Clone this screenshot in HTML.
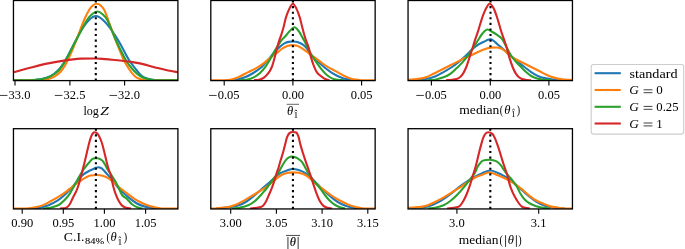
<!DOCTYPE html>
<html><head><meta charset="utf-8"><title>plot</title>
<style>
html,body{margin:0;padding:0;background:#fff;}
body{width:685px;height:249px;position:relative;overflow:hidden;font-family:"Liberation Serif",serif;}
svg text{font-family:"Liberation Serif",serif;fill:#000;}
svg{will-change:transform;opacity:0.999;}
</style></head><body>
<svg width="685" height="249" viewBox="0 0 685 249" style="position:absolute;left:0;top:0">
<rect x="0" y="0" width="685" height="249" fill="#fff"/>
<defs><clipPath id="c00"><rect x="13.45" y="0.5" width="164.45000000000002" height="80.1"/></clipPath><clipPath id="c01"><rect x="210.8" y="0.5" width="164.34999999999997" height="80.1"/></clipPath><clipPath id="c02"><rect x="408.05" y="0.5" width="164.40000000000003" height="80.1"/></clipPath><clipPath id="c10"><rect x="13.45" y="128.7" width="164.45000000000002" height="80.25"/></clipPath><clipPath id="c11"><rect x="210.8" y="128.7" width="164.34999999999997" height="80.25"/></clipPath><clipPath id="c12"><rect x="408.05" y="128.7" width="164.40000000000003" height="80.25"/></clipPath></defs>
<g clip-path="url(#c00)" fill="none" stroke-width="2.1" stroke-linejoin="round" stroke-linecap="butt">
<path stroke="#1f77b4" d="M10.00,80.30C16.67,80.30 23.33,80.30 30.00,80.30C32.00,80.30 34.00,79.99 36.00,79.78C38.00,79.58 40.00,79.56 42.00,79.06C44.83,78.36 47.67,77.74 50.50,76.18C53.17,74.72 55.83,72.88 58.50,70.00C60.83,67.48 63.17,63.96 65.50,60.00C68.67,54.63 71.83,47.94 75.00,42.00C77.17,37.94 79.33,33.40 81.50,30.00C84.00,26.07 86.50,22.43 89.00,20.00C91.30,17.76 93.60,16.00 95.90,16.00C98.27,16.00 100.63,17.88 103.00,20.00C105.83,22.54 108.67,26.15 111.50,30.00C114.07,33.49 116.63,37.60 119.20,42.00C122.47,47.60 125.73,54.71 129.00,60.00C131.50,64.05 134.00,66.89 136.50,70.00C138.33,72.28 140.17,74.77 142.00,76.18C144.00,77.72 146.00,78.20 148.00,78.86C149.67,79.40 151.33,79.58 153.00,79.78C155.33,80.07 157.67,80.30 160.00,80.30C167.33,80.30 174.67,80.30 182.00,80.30"/>
<path stroke="#ff7f0e" d="M10.00,80.30C20.00,80.30 30.00,80.30 40.00,80.30C42.33,80.30 44.67,80.10 47.00,79.48C49.77,78.73 52.53,77.93 55.30,76.18C57.53,74.77 59.77,72.87 62.00,70.00C63.97,67.47 65.93,64.05 67.90,60.00C70.47,54.72 73.03,48.34 75.60,42.00C78.43,35.00 81.27,26.72 84.10,20.00C85.77,16.05 87.43,12.75 89.10,10.00C90.40,7.85 91.70,6.38 93.00,5.30C94.23,4.28 95.47,3.70 96.70,3.70C97.93,3.70 99.17,4.28 100.40,5.30C101.70,6.38 103.00,7.55 104.30,10.00C105.60,12.45 106.90,16.56 108.20,20.00C110.80,26.89 113.40,34.33 116.00,41.00C118.60,47.67 121.20,54.50 123.80,60.00C125.77,64.16 127.73,67.11 129.70,70.00C131.40,72.50 133.10,74.68 134.80,76.18C136.53,77.71 138.27,78.43 140.00,79.06C142.00,79.80 144.00,80.30 146.00,80.30C158.00,80.30 170.00,80.30 182.00,80.30"/>
<path stroke="#2ca02c" d="M10.00,80.30C16.67,80.30 23.33,80.30 30.00,80.30C32.00,80.30 34.00,79.97 36.00,79.78C38.00,79.60 40.00,79.65 42.00,79.17C45.00,78.45 48.00,77.80 51.00,76.18C53.67,74.74 56.33,72.90 59.00,70.00C61.30,67.50 63.60,63.98 65.90,60.00C69.00,54.64 72.10,47.88 75.20,42.00C79.13,34.54 83.07,26.44 87.00,20.00C88.77,17.11 90.53,15.44 92.30,14.00C94.00,12.61 95.70,11.50 97.40,11.50C99.13,11.50 100.87,12.71 102.60,14.20C104.17,15.55 105.73,16.94 107.30,20.00C110.13,25.54 112.97,33.87 115.80,40.00C119.13,47.21 122.47,54.25 125.80,60.00C128.27,64.25 130.73,67.23 133.20,70.00C135.53,72.62 137.87,74.63 140.20,76.18C142.30,77.58 144.40,78.22 146.50,78.86C148.33,79.42 150.17,79.56 152.00,79.78C154.00,80.04 156.00,80.30 158.00,80.30C166.00,80.30 174.00,80.30 182.00,80.30"/>
<path stroke="#d62728" d="M10.00,73.09C11.17,72.82 12.33,72.57 13.50,72.27C19.00,70.81 24.50,69.23 30.00,67.80C35.63,66.34 41.27,64.80 46.90,63.60C52.50,62.40 58.10,61.43 63.70,60.60C69.33,59.76 74.97,58.97 80.60,58.60C85.73,58.50 90.87,58.50 96.00,58.50C99.10,58.50 102.20,58.87 105.30,59.10C107.53,59.27 109.77,59.47 112.00,59.70C116.77,60.20 121.53,60.71 126.30,61.30C128.87,61.61 131.43,61.98 134.00,62.40C136.70,62.84 139.40,63.31 142.10,63.90C144.73,64.48 147.37,65.20 150.00,65.90C152.63,66.60 155.27,67.43 157.90,68.10C160.60,68.79 163.30,69.43 166.00,70.00C168.57,70.54 171.13,70.96 173.70,71.44C175.13,71.71 176.57,72.00 178.00,72.27C179.33,72.51 180.67,72.75 182.00,72.99"/>
<line x1="95.8" y1="0.5" x2="95.8" y2="80.6" stroke="#000" stroke-width="2.1" stroke-dasharray="2.1 3.48"/>
</g>
<rect x="13.45" y="0.5" width="164.45" height="80.10" fill="none" stroke="#000" stroke-width="1.3"/>
<line x1="15.0" y1="80.6" x2="15.0" y2="85.50" stroke="#000" stroke-width="1.1"/>
<line x1="-0.12" y1="95.45" x2="7.48" y2="95.45" stroke="#000" stroke-width="0.75"/>
<text x="8.5" y="98.6" font-size="11.8" textLength="21.9" lengthAdjust="spacingAndGlyphs">33.0</text>
<line x1="69.9" y1="80.6" x2="69.9" y2="85.50" stroke="#000" stroke-width="1.1"/>
<line x1="54.78" y1="95.45" x2="62.38" y2="95.45" stroke="#000" stroke-width="0.75"/>
<text x="63.5" y="98.6" font-size="11.8" textLength="21.9" lengthAdjust="spacingAndGlyphs">32.5</text>
<line x1="124.6" y1="80.6" x2="124.6" y2="85.50" stroke="#000" stroke-width="1.1"/>
<line x1="109.48" y1="95.45" x2="117.08" y2="95.45" stroke="#000" stroke-width="0.75"/>
<text x="118.1" y="98.6" font-size="11.8" textLength="21.9" lengthAdjust="spacingAndGlyphs">32.0</text>
<g clip-path="url(#c01)" fill="none" stroke-width="2.1" stroke-linejoin="round" stroke-linecap="butt">
<path stroke="#1f77b4" d="M228.00,80.30C230.80,80.09 233.60,80.18 236.40,79.68C239.23,79.18 242.07,78.44 244.90,77.31C247.70,76.20 250.50,74.71 253.30,72.99C256.10,71.27 258.90,69.50 261.70,67.00C263.97,64.97 266.23,62.04 268.50,59.40C270.47,57.11 272.43,54.39 274.40,52.20C276.27,50.12 278.13,48.20 280.00,46.60C281.63,45.20 283.27,44.10 284.90,43.20C286.10,42.54 287.30,42.14 288.50,41.90C290.10,41.58 291.70,41.50 293.30,41.50C294.90,41.50 296.50,41.67 298.10,42.20C299.70,42.73 301.30,43.57 302.90,44.70C304.13,45.57 305.37,46.64 306.60,48.20C307.90,49.84 309.20,52.73 310.50,54.30C312.77,57.03 315.03,58.97 317.30,61.10C319.53,63.20 321.77,65.19 324.00,67.00C326.27,68.84 328.53,70.55 330.80,72.06C333.03,73.54 335.27,74.88 337.50,75.97C339.77,77.08 342.03,78.01 344.30,78.65C346.53,79.28 348.77,79.55 351.00,79.78C354.00,80.10 357.00,80.13 360.00,80.30"/>
<path stroke="#ff7f0e" d="M205.00,80.30C211.33,80.30 217.67,80.30 224.00,80.30C226.47,80.30 228.93,80.17 231.40,79.58C234.20,78.90 237.00,77.74 239.80,76.49C242.60,75.24 245.40,73.50 248.20,72.06C251.03,70.60 253.87,69.43 256.70,67.80C259.23,66.34 261.77,64.68 264.30,62.80C266.27,61.34 268.23,59.35 270.20,57.80C272.67,55.85 275.13,54.19 277.60,52.30C279.23,51.05 280.87,49.48 282.50,48.40C284.10,47.34 285.70,46.45 287.30,45.90C288.90,45.35 290.50,45.10 292.10,45.10C293.70,45.10 295.30,45.28 296.90,45.80C298.50,46.32 300.10,47.24 301.70,48.20C303.33,49.18 304.97,50.41 306.60,51.60C307.90,52.55 309.20,53.65 310.50,54.60C312.77,56.25 315.03,57.74 317.30,59.40C319.53,61.04 321.77,62.96 324.00,64.50C326.27,66.06 328.53,67.43 330.80,68.70C333.03,69.95 335.27,70.86 337.50,72.06C339.77,73.28 342.03,74.87 344.30,75.97C346.53,77.06 348.77,77.99 351.00,78.65C352.97,79.23 354.93,79.43 356.90,79.68C359.27,79.98 361.63,80.30 364.00,80.30C369.33,80.30 374.67,80.30 380.00,80.30"/>
<path stroke="#2ca02c" d="M240.00,80.30C242.17,80.09 244.33,80.12 246.50,79.68C248.77,79.23 251.03,78.75 253.30,77.62C255.53,76.51 257.77,75.03 260.00,72.99C261.97,71.19 263.93,68.83 265.90,66.10C267.60,63.74 269.30,60.62 271.00,57.70C272.40,55.29 273.80,52.48 275.20,50.10C276.60,47.72 278.00,45.61 279.40,43.40C280.13,42.24 280.87,40.88 281.60,40.00C282.83,38.52 284.07,37.67 285.30,36.30C286.70,34.74 288.10,32.55 289.50,31.20C291.20,29.55 292.90,27.30 294.60,27.30C296.00,27.30 297.40,29.39 298.80,31.20C299.93,32.66 301.07,35.13 302.20,37.10C302.87,38.26 303.53,39.30 304.20,40.60C305.47,43.07 306.73,45.96 308.00,48.40C309.40,51.09 310.80,53.71 312.20,56.00C313.90,58.78 315.60,61.20 317.30,63.60C319.00,66.00 320.70,68.40 322.40,70.41C324.07,72.39 325.73,74.20 327.40,75.56C329.10,76.95 330.80,77.94 332.50,78.65C334.17,79.35 335.83,79.55 337.50,79.78C339.67,80.10 341.83,80.13 344.00,80.30"/>
<path stroke="#d62728" d="M254.00,80.30C255.73,80.09 257.47,80.18 259.20,79.68C260.90,79.19 262.60,78.54 264.30,77.31C265.70,76.31 267.10,74.91 268.50,72.99C269.60,71.47 270.70,69.70 271.80,67.00C272.67,64.87 273.53,61.66 274.40,58.50C275.23,55.46 276.07,51.51 276.90,48.40C277.67,45.54 278.43,42.97 279.20,40.60C279.83,38.64 280.47,37.36 281.10,35.40C281.93,32.82 282.77,30.08 283.60,27.00C284.43,23.92 285.27,19.53 286.10,16.90C287.23,13.33 288.37,10.60 289.50,8.40C290.63,6.20 291.77,3.70 292.90,3.70C294.03,3.70 295.17,6.17 296.30,8.40C297.40,10.57 298.50,13.43 299.60,16.90C300.47,19.63 301.33,23.70 302.20,27.00C303.03,30.17 303.87,33.39 304.70,36.30C305.17,37.93 305.63,39.26 306.10,40.60C307.03,43.29 307.97,45.23 308.90,48.40C309.57,50.66 310.23,54.54 310.90,56.90C311.90,60.44 312.90,63.59 313.90,66.10C315.03,68.95 316.17,71.44 317.30,72.99C318.70,74.90 320.10,75.44 321.50,76.49C322.90,77.54 324.30,78.60 325.70,79.27C326.97,79.87 328.23,79.96 329.50,80.30"/>
<line x1="292.9" y1="0.5" x2="292.9" y2="80.6" stroke="#000" stroke-width="2.1" stroke-dasharray="2.1 3.48"/>
</g>
<rect x="210.8" y="0.5" width="164.35" height="80.10" fill="none" stroke="#000" stroke-width="1.3"/>
<line x1="224.2" y1="80.6" x2="224.2" y2="85.50" stroke="#000" stroke-width="1.1"/>
<line x1="209.08" y1="95.45" x2="216.68" y2="95.45" stroke="#000" stroke-width="0.75"/>
<text x="217.7" y="98.6" font-size="11.8" textLength="21.9" lengthAdjust="spacingAndGlyphs">0.05</text>
<line x1="292.9" y1="80.6" x2="292.9" y2="85.50" stroke="#000" stroke-width="1.1"/>
<text x="282.0" y="98.6" font-size="11.8" textLength="21.9" lengthAdjust="spacingAndGlyphs">0.00</text>
<line x1="361.6" y1="80.6" x2="361.6" y2="85.50" stroke="#000" stroke-width="1.1"/>
<text x="350.7" y="98.6" font-size="11.8" textLength="21.9" lengthAdjust="spacingAndGlyphs">0.05</text>
<g clip-path="url(#c02)" fill="none" stroke-width="2.1" stroke-linejoin="round" stroke-linecap="butt">
<path stroke="#1f77b4" d="M412.00,80.30C414.00,80.13 416.00,79.94 418.00,79.78C420.33,79.60 422.67,79.72 425.00,79.27C428.37,78.62 431.73,77.80 435.10,76.49C437.90,75.40 440.70,73.63 443.50,72.06C446.33,70.47 449.17,68.89 452.00,67.00C454.23,65.51 456.47,63.72 458.70,61.90C460.97,60.05 463.23,58.12 465.50,56.00C467.73,53.92 469.97,51.25 472.20,49.30C474.47,47.32 476.73,45.61 479.00,44.20C481.23,42.81 483.47,42.02 485.70,40.90C486.47,40.52 487.23,39.95 488.00,39.70C488.77,39.45 489.53,39.40 490.30,39.40C491.30,39.40 492.30,39.92 493.30,40.60C494.67,41.52 496.03,43.01 497.40,44.20C499.67,46.18 501.93,48.12 504.20,50.10C506.43,52.05 508.67,54.05 510.90,56.00C513.17,57.98 515.43,60.05 517.70,61.90C519.93,63.72 522.17,65.32 524.40,67.00C526.67,68.71 528.93,70.55 531.20,72.06C533.43,73.54 535.67,74.96 537.90,75.97C540.13,76.99 542.37,77.62 544.60,78.14C547.70,78.86 550.80,79.30 553.90,79.68C556.60,80.02 559.30,80.09 562.00,80.30"/>
<path stroke="#ff7f0e" d="M400.00,80.30C402.33,80.16 404.67,80.06 407.00,79.89C409.33,79.72 411.67,79.56 414.00,79.27C417.67,78.81 421.33,78.65 425.00,77.62C427.80,76.83 430.60,75.16 433.40,73.81C436.23,72.45 439.07,70.93 441.90,69.50C444.70,68.09 447.50,66.70 450.30,65.30C453.10,63.90 455.90,62.48 458.70,61.10C461.53,59.71 464.37,58.31 467.20,57.00C469.27,56.04 471.33,55.25 473.40,54.30C474.60,53.75 475.80,53.08 477.00,52.50C478.63,51.71 480.27,50.87 481.90,50.20C483.50,49.54 485.10,48.93 486.70,48.50C488.30,48.07 489.90,47.77 491.50,47.60C493.10,47.50 494.70,47.50 496.30,47.50C497.90,47.50 499.50,47.88 501.10,48.50C502.33,48.98 503.57,49.82 504.80,50.80C505.80,51.59 506.80,52.99 507.80,53.80C509.97,55.56 512.13,57.19 514.30,58.50C517.10,60.19 519.90,61.39 522.70,62.80C525.53,64.23 528.37,65.59 531.20,67.00C534.00,68.40 536.80,69.80 539.60,71.24C541.83,72.38 544.07,73.74 546.30,74.74C548.83,75.87 551.37,76.89 553.90,77.62C556.60,78.40 559.30,78.89 562.00,79.27C564.67,79.65 567.33,79.72 570.00,79.89C572.67,80.06 575.33,80.16 578.00,80.30"/>
<path stroke="#2ca02c" d="M428.00,80.30C430.37,80.09 432.73,80.14 435.10,79.68C437.90,79.14 440.70,78.39 443.50,77.31C445.77,76.44 448.03,75.41 450.30,73.81C452.53,72.24 454.77,69.91 457.00,67.80C458.97,65.94 460.93,64.15 462.90,61.90C464.87,59.65 466.83,57.02 468.80,54.30C470.50,51.95 472.20,49.29 473.90,46.70C475.37,44.46 476.83,42.07 478.30,39.80C479.63,37.74 480.97,35.21 482.30,33.70C484.00,31.78 485.70,29.50 487.40,29.50C489.07,29.50 490.73,31.08 492.40,32.00C494.10,32.94 495.80,33.96 497.50,35.10C498.73,35.93 499.97,36.67 501.20,37.90C501.87,38.57 502.53,39.62 503.20,40.80C504.37,42.86 505.53,45.42 506.70,47.60C508.10,50.22 509.50,53.05 510.90,55.20C512.60,57.81 514.30,59.91 516.00,61.90C517.67,63.85 519.33,65.32 521.00,67.00C522.70,68.71 524.40,70.56 526.10,72.06C527.80,73.56 529.50,75.02 531.20,75.97C533.43,77.22 535.67,78.02 537.90,78.65C540.13,79.29 542.37,79.52 544.60,79.78C547.07,80.07 549.53,80.13 552.00,80.30"/>
<path stroke="#d62728" d="M446.00,80.30C448.00,80.13 450.00,80.13 452.00,79.78C454.23,79.40 456.47,79.36 458.70,78.14C460.10,77.37 461.50,75.86 462.90,73.81C464.03,72.15 465.17,69.75 466.30,67.00C467.27,64.65 468.23,61.42 469.20,58.50C470.10,55.78 471.00,52.97 471.90,50.10C472.90,46.91 473.90,43.35 474.90,40.30C475.97,37.05 477.03,34.47 478.10,31.20C478.93,28.64 479.77,25.47 480.60,22.80C481.43,20.13 482.27,17.35 483.10,15.20C484.23,12.28 485.37,9.64 486.50,7.60C487.50,5.80 488.50,3.70 489.50,3.70C490.77,3.70 492.03,5.41 493.30,7.60C494.40,9.51 495.50,12.85 496.60,16.00C497.47,18.48 498.33,21.63 499.20,24.50C500.03,27.26 500.87,30.32 501.70,32.90C502.57,35.58 503.43,37.75 504.30,40.30C505.10,42.65 505.90,44.89 506.70,47.60C507.53,50.42 508.37,54.16 509.20,56.90C510.33,60.63 511.47,64.18 512.60,67.00C513.73,69.82 514.87,72.15 516.00,73.81C517.40,75.86 518.80,77.24 520.20,78.14C521.90,79.23 523.60,79.44 525.30,79.78C527.20,80.17 529.10,80.13 531.00,80.30"/>
<line x1="490.5" y1="0.5" x2="490.5" y2="80.6" stroke="#000" stroke-width="2.1" stroke-dasharray="2.1 3.48"/>
</g>
<rect x="408.05" y="0.5" width="164.40" height="80.10" fill="none" stroke="#000" stroke-width="1.3"/>
<line x1="431.4" y1="80.6" x2="431.4" y2="85.50" stroke="#000" stroke-width="1.1"/>
<line x1="416.28" y1="95.45" x2="423.88" y2="95.45" stroke="#000" stroke-width="0.75"/>
<text x="424.9" y="98.6" font-size="11.8" textLength="21.9" lengthAdjust="spacingAndGlyphs">0.05</text>
<line x1="490.3" y1="80.6" x2="490.3" y2="85.50" stroke="#000" stroke-width="1.1"/>
<text x="479.4" y="98.6" font-size="11.8" textLength="21.9" lengthAdjust="spacingAndGlyphs">0.00</text>
<line x1="548.9" y1="80.6" x2="548.9" y2="85.50" stroke="#000" stroke-width="1.1"/>
<text x="538.0" y="98.6" font-size="11.8" textLength="21.9" lengthAdjust="spacingAndGlyphs">0.05</text>
<g clip-path="url(#c10)" fill="none" stroke-width="2.1" stroke-linejoin="round" stroke-linecap="butt">
<path stroke="#1f77b4" d="M32.00,208.60C34.70,208.29 37.40,208.21 40.10,207.67C42.90,207.11 45.70,206.42 48.50,205.31C51.33,204.19 54.17,202.76 57.00,200.98C59.23,199.59 61.47,197.77 63.70,195.80C65.97,193.80 68.23,191.52 70.50,189.10C72.17,187.32 73.83,185.18 75.50,183.20C77.00,181.42 78.50,179.45 80.00,177.80C81.17,176.52 82.33,175.31 83.50,174.40C85.03,173.21 86.57,172.33 88.10,171.50C89.70,170.63 91.30,170.05 92.90,169.30C93.93,168.82 94.97,168.20 96.00,167.80C96.77,167.50 97.53,167.20 98.30,167.20C99.03,167.20 99.77,167.37 100.50,167.70C101.23,168.03 101.97,168.51 102.70,169.20C103.83,170.27 104.97,171.73 106.10,173.00C106.67,173.63 107.23,174.27 107.80,174.90C109.50,176.80 111.20,178.50 112.90,180.60C114.57,182.66 116.23,185.46 117.90,187.40C119.87,189.69 121.83,191.46 123.80,193.30C125.77,195.14 127.73,196.87 129.70,198.41C131.97,200.19 134.23,201.95 136.50,203.25C138.73,204.53 140.97,205.48 143.20,206.13C146.00,206.95 148.80,207.26 151.60,207.67C154.40,208.09 157.20,208.29 160.00,208.60"/>
<path stroke="#ff7f0e" d="M8.00,208.60C14.00,208.60 20.00,208.60 26.00,208.60C28.47,208.60 30.93,208.04 33.40,207.57C36.20,207.04 39.00,206.63 41.80,205.62C44.60,204.60 47.40,202.98 50.20,201.50C53.03,200.00 55.87,198.44 58.70,196.70C61.23,195.14 63.77,193.46 66.30,191.60C68.27,190.16 70.23,188.33 72.20,186.80C74.17,185.27 76.13,183.80 78.10,182.40C79.40,181.47 80.70,180.62 82.00,179.80C83.33,178.96 84.67,178.07 86.00,177.40C87.50,176.64 89.00,175.84 90.50,175.50C92.50,175.04 94.50,175.00 96.50,175.00C98.50,175.00 100.50,175.14 102.50,175.70C104.53,176.27 106.57,177.21 108.60,178.40C109.80,179.11 111.00,180.40 112.20,181.40C112.97,182.04 113.73,182.65 114.50,183.30C116.77,185.22 119.03,187.29 121.30,189.10C123.53,190.89 125.77,192.42 128.00,194.10C130.27,195.80 132.53,197.79 134.80,199.23C137.03,200.66 139.27,201.68 141.50,202.73C143.77,203.81 146.03,204.86 148.30,205.62C150.53,206.36 152.77,206.78 155.00,207.26C157.33,207.77 159.67,208.60 162.00,208.60C169.33,208.60 176.67,208.60 184.00,208.60"/>
<path stroke="#2ca02c" d="M43.00,208.60C45.40,208.29 47.80,208.22 50.20,207.67C53.03,207.02 55.87,206.50 58.70,205.00C60.67,203.96 62.63,202.09 64.60,200.06C66.40,198.19 68.20,195.96 70.00,193.30C71.43,191.18 72.87,188.29 74.30,185.70C75.67,183.23 77.03,180.53 78.40,178.10C79.60,175.96 80.80,173.99 82.00,172.00C82.63,170.95 83.27,169.87 83.90,169.00C85.33,167.03 86.77,165.19 88.20,163.50C89.53,161.93 90.87,160.24 92.20,159.20C93.13,158.47 94.07,158.20 95.00,158.20C95.83,158.20 96.67,158.20 97.50,158.20C98.33,158.20 99.17,158.56 100.00,159.00C100.87,159.46 101.73,159.89 102.60,160.90C103.57,162.02 104.53,163.74 105.50,165.40C106.07,166.37 106.63,167.88 107.20,168.80C108.53,170.98 109.87,172.63 111.20,174.70C112.60,176.87 114.00,179.01 115.40,181.50C116.53,183.51 117.67,185.92 118.80,188.20C119.90,190.42 121.00,193.55 122.10,195.00C123.80,197.23 125.50,197.65 127.20,199.23C128.90,200.82 130.60,203.13 132.30,204.48C133.97,205.81 135.63,206.59 137.30,207.26C139.03,207.96 140.77,208.15 142.50,208.60"/>
<path stroke="#d62728" d="M60.00,208.60C62.10,208.29 64.20,208.57 66.30,207.67C67.40,207.20 68.50,206.15 69.60,204.48C70.73,202.76 71.87,199.78 73.00,197.50C74.13,195.22 75.27,193.39 76.40,190.80C77.23,188.89 78.07,186.68 78.90,184.00C79.73,181.32 80.57,177.83 81.40,174.70C81.93,172.70 82.47,170.70 83.00,168.60C83.63,166.10 84.27,163.53 84.90,160.90C85.63,157.86 86.37,154.69 87.10,151.60C87.77,148.79 88.43,145.67 89.10,143.20C89.80,140.60 90.50,138.19 91.20,136.40C91.80,134.86 92.40,133.90 93.00,133.20C93.57,132.54 94.13,132.30 94.70,132.30C95.33,132.30 95.97,132.43 96.60,132.90C97.27,133.40 97.93,134.01 98.60,135.20C99.53,136.87 100.47,138.86 101.40,141.50C102.20,143.76 103.00,146.82 103.80,149.90C104.53,152.72 105.27,156.22 106.00,159.20C106.80,162.45 107.60,165.95 108.40,168.60C109.33,171.69 110.27,173.02 111.20,176.40C111.77,178.45 112.33,182.62 112.90,184.90C113.73,188.25 114.57,191.03 115.40,193.30C116.53,196.39 117.67,198.90 118.80,200.98C119.90,203.01 121.00,204.63 122.10,205.62C123.53,206.90 124.97,207.30 126.40,207.78C127.93,208.29 129.47,208.33 131.00,208.60"/>
<line x1="95.9" y1="128.7" x2="95.9" y2="208.95" stroke="#000" stroke-width="2.1" stroke-dasharray="2.1 3.48"/>
</g>
<rect x="13.45" y="128.7" width="164.45" height="80.25" fill="none" stroke="#000" stroke-width="1.3"/>
<line x1="22.2" y1="208.95" x2="22.2" y2="213.85" stroke="#000" stroke-width="1.1"/>
<text x="11.3" y="226.9" font-size="11.8" textLength="21.9" lengthAdjust="spacingAndGlyphs">0.90</text>
<line x1="63.3" y1="208.95" x2="63.3" y2="213.85" stroke="#000" stroke-width="1.1"/>
<text x="52.4" y="226.9" font-size="11.8" textLength="21.9" lengthAdjust="spacingAndGlyphs">0.95</text>
<line x1="104.4" y1="208.95" x2="104.4" y2="213.85" stroke="#000" stroke-width="1.1"/>
<text x="93.5" y="226.9" font-size="11.8" textLength="21.9" lengthAdjust="spacingAndGlyphs">1.00</text>
<line x1="145.6" y1="208.95" x2="145.6" y2="213.85" stroke="#000" stroke-width="1.1"/>
<text x="134.7" y="226.9" font-size="11.8" textLength="21.9" lengthAdjust="spacingAndGlyphs">1.05</text>
<g clip-path="url(#c11)" fill="none" stroke-width="2.1" stroke-linejoin="round" stroke-linecap="butt">
<path stroke="#1f77b4" d="M216.00,208.60C220.00,208.26 224.00,208.11 228.00,207.57C231.37,207.12 234.73,206.72 238.10,205.62C240.90,204.70 243.70,203.26 246.50,201.50C249.33,199.72 252.17,197.31 255.00,195.00C257.23,193.18 259.47,191.05 261.70,189.10C263.97,187.12 266.23,185.18 268.50,183.20C270.73,181.25 272.97,179.21 275.20,177.30C276.90,175.84 278.60,174.08 280.30,173.10C282.53,171.81 284.77,171.25 287.00,170.50C288.83,169.88 290.67,169.00 292.50,169.00C294.57,169.00 296.63,169.35 298.70,170.00C300.97,170.71 303.23,171.70 305.50,173.10C307.17,174.13 308.83,175.76 310.50,177.30C312.77,179.39 315.03,181.73 317.30,184.00C319.53,186.23 321.77,188.70 324.00,190.80C326.27,192.93 328.53,194.85 330.80,196.70C333.03,198.52 335.27,200.38 337.50,201.81C339.77,203.25 342.03,204.39 344.30,205.31C346.53,206.21 348.77,206.73 351.00,207.26C353.33,207.82 355.67,208.15 358.00,208.60"/>
<path stroke="#ff7f0e" d="M205.00,208.60C208.00,208.60 211.00,208.60 214.00,208.60C216.33,208.60 218.67,207.93 221.00,207.67C223.33,207.42 225.67,207.54 228.00,207.06C230.80,206.48 233.60,205.64 236.40,204.48C239.23,203.31 242.07,201.65 244.90,200.06C247.70,198.49 250.50,196.69 253.30,195.00C256.10,193.31 258.90,191.72 261.70,189.90C264.53,188.06 267.37,186.20 270.20,184.00C272.43,182.27 274.67,179.84 276.90,178.10C278.60,176.77 280.30,175.66 282.00,174.80C283.67,173.96 285.33,173.37 287.00,173.00C288.97,172.57 290.93,172.40 292.90,172.40C294.83,172.40 296.77,172.40 298.70,172.70C300.97,173.17 303.23,173.79 305.50,175.00C307.17,175.89 308.83,177.60 310.50,179.00C312.77,180.90 315.03,183.07 317.30,184.90C319.53,186.70 321.77,188.23 324.00,189.90C326.27,191.60 328.53,193.43 330.80,195.00C333.03,196.54 335.27,197.96 337.50,199.23C339.77,200.53 342.03,201.66 344.30,202.73C346.53,203.79 348.77,204.81 351.00,205.62C352.97,206.32 354.93,206.84 356.90,207.26C359.60,207.84 362.30,208.60 365.00,208.60C370.00,208.60 375.00,208.60 380.00,208.60"/>
<path stroke="#2ca02c" d="M232.00,208.60C234.60,208.29 237.20,208.20 239.80,207.67C242.60,207.10 245.40,206.54 248.20,205.31C250.47,204.31 252.73,202.87 255.00,200.98C257.23,199.13 259.47,196.59 261.70,194.10C263.80,191.76 265.90,189.26 268.00,186.50C269.73,184.22 271.47,181.32 273.20,179.00C274.63,177.08 276.07,175.75 277.50,173.80C278.37,172.62 279.23,171.09 280.10,169.60C280.90,168.22 281.70,166.53 282.50,165.20C283.67,163.26 284.83,161.20 286.00,159.80C287.00,158.60 288.00,157.97 289.00,157.40C289.93,156.87 290.87,156.50 291.80,156.50C292.70,156.50 293.60,156.62 294.50,156.90C295.40,157.18 296.30,157.61 297.20,158.20C298.70,159.18 300.20,159.86 301.70,161.60C302.87,162.96 304.03,165.47 305.20,167.50C306.07,169.01 306.93,170.73 307.80,172.20C308.67,173.67 309.53,175.06 310.40,176.30C311.53,177.92 312.67,179.39 313.80,180.80C316.10,183.66 318.40,186.16 320.70,189.10C322.10,190.89 323.50,193.17 324.90,195.00C326.30,196.83 327.70,198.63 329.10,200.06C330.80,201.79 332.50,203.31 334.20,204.48C335.87,205.64 337.53,206.42 339.20,207.06C341.13,207.79 343.07,208.09 345.00,208.60"/>
<path stroke="#d62728" d="M250.00,208.60C252.23,208.33 254.47,208.21 256.70,207.78C258.67,207.39 260.63,207.41 262.60,206.13C263.70,205.42 264.80,203.73 265.90,201.81C266.77,200.29 267.63,197.80 268.50,195.80C269.60,193.26 270.70,191.03 271.80,188.20C272.67,185.97 273.53,183.32 274.40,180.60C275.23,177.99 276.07,174.76 276.90,172.20C277.37,170.76 277.83,170.08 278.30,168.60C278.93,166.58 279.57,163.85 280.20,161.70C281.07,158.75 281.93,156.33 282.80,153.30C283.53,150.73 284.27,147.69 285.00,144.90C285.67,142.36 286.33,139.05 287.00,137.30C287.83,135.11 288.67,133.84 289.50,133.10C290.67,132.07 291.83,132.00 293.00,132.00C294.10,132.00 295.20,132.00 296.30,132.40C297.00,132.97 297.70,134.32 298.40,136.40C299.10,138.48 299.80,142.33 300.50,144.90C301.33,147.96 302.17,150.63 303.00,153.30C303.83,155.97 304.67,158.45 305.50,160.90C306.37,163.45 307.23,165.81 308.10,168.30C309.03,170.98 309.97,173.58 310.90,176.40C311.80,179.12 312.70,182.18 313.60,184.90C314.57,187.82 315.53,190.79 316.50,193.30C317.60,196.15 318.70,198.96 319.80,200.98C320.93,203.07 322.07,204.62 323.20,205.62C324.60,206.85 326.00,207.20 327.40,207.67C328.93,208.19 330.47,208.29 332.00,208.60"/>
<line x1="292.95" y1="128.7" x2="292.95" y2="208.95" stroke="#000" stroke-width="2.1" stroke-dasharray="2.1 3.48"/>
</g>
<rect x="210.8" y="128.7" width="164.35" height="80.25" fill="none" stroke="#000" stroke-width="1.3"/>
<line x1="230.7" y1="208.95" x2="230.7" y2="213.85" stroke="#000" stroke-width="1.1"/>
<text x="219.8" y="226.9" font-size="11.8" textLength="21.9" lengthAdjust="spacingAndGlyphs">3.00</text>
<line x1="276.4" y1="208.95" x2="276.4" y2="213.85" stroke="#000" stroke-width="1.1"/>
<text x="265.5" y="226.9" font-size="11.8" textLength="21.9" lengthAdjust="spacingAndGlyphs">3.05</text>
<line x1="322.1" y1="208.95" x2="322.1" y2="213.85" stroke="#000" stroke-width="1.1"/>
<text x="311.2" y="226.9" font-size="11.8" textLength="21.9" lengthAdjust="spacingAndGlyphs">3.10</text>
<line x1="367.8" y1="208.95" x2="367.8" y2="213.85" stroke="#000" stroke-width="1.1"/>
<text x="356.9" y="226.9" font-size="11.8" textLength="21.9" lengthAdjust="spacingAndGlyphs">3.15</text>
<g clip-path="url(#c12)" fill="none" stroke-width="2.1" stroke-linejoin="round" stroke-linecap="butt">
<path stroke="#1f77b4" d="M410.00,208.60C412.33,208.33 414.67,207.98 417.00,207.78C419.67,207.54 422.33,207.78 425.00,207.26C427.80,206.70 430.60,205.68 433.40,204.48C436.23,203.28 439.07,201.80 441.90,200.06C444.70,198.34 447.50,196.21 450.30,194.10C453.10,191.99 455.90,189.49 458.70,187.40C461.53,185.29 464.37,183.34 467.20,181.50C470.00,179.68 472.80,177.96 475.60,176.40C477.83,175.16 480.07,174.12 482.30,173.10C483.87,172.39 485.43,171.68 487.00,171.20C488.23,170.82 489.47,170.50 490.70,170.50C492.93,170.50 495.17,171.77 497.40,172.70C499.67,173.64 501.93,174.86 504.20,176.10C506.43,177.32 508.67,178.43 510.90,180.10C512.60,181.37 514.30,183.36 516.00,184.90C518.23,186.93 520.47,188.85 522.70,190.80C524.97,192.78 527.23,194.90 529.50,196.70C531.73,198.47 533.97,200.13 536.20,201.50C538.47,202.89 540.73,204.06 543.00,205.00C545.23,205.92 547.47,206.61 549.70,207.06C552.13,207.54 554.57,207.53 557.00,207.78C559.67,208.05 562.33,208.33 565.00,208.60"/>
<path stroke="#ff7f0e" d="M400.00,208.60C402.00,208.36 404.00,208.05 406.00,207.88C408.00,207.71 410.00,207.76 412.00,207.57C416.33,207.17 420.67,207.11 425.00,206.13C427.80,205.50 430.60,204.01 433.40,202.73C436.23,201.44 439.07,199.99 441.90,198.41C444.70,196.85 447.50,195.00 450.30,193.30C453.10,191.60 455.90,190.02 458.70,188.20C461.53,186.36 464.37,184.13 467.20,182.30C470.00,180.49 472.80,178.71 475.60,177.30C477.83,176.18 480.07,175.50 482.30,174.70C484.53,173.90 486.77,172.50 489.00,172.50C491.23,172.50 493.47,173.61 495.70,174.40C497.97,175.21 500.23,176.26 502.50,177.30C504.73,178.33 506.97,179.34 509.20,180.60C511.47,181.88 513.73,183.34 516.00,184.90C518.23,186.44 520.47,188.10 522.70,189.90C524.97,191.73 527.23,194.03 529.50,195.80C531.73,197.55 533.97,199.19 536.20,200.47C538.47,201.77 540.73,202.61 543.00,203.56C545.23,204.49 547.47,205.48 549.70,206.13C551.80,206.75 553.90,207.08 556.00,207.37C560.00,207.90 564.00,208.60 568.00,208.60C571.33,208.60 574.67,208.60 578.00,208.60"/>
<path stroke="#2ca02c" d="M428.00,208.60C430.37,208.33 432.73,208.28 435.10,207.78C437.90,207.18 440.70,206.56 443.50,205.31C445.77,204.29 448.03,202.71 450.30,200.98C452.53,199.28 454.77,197.25 457.00,195.00C459.27,192.72 461.53,190.11 463.80,187.40C465.77,185.05 467.73,182.38 469.70,179.80C471.37,177.61 473.03,175.73 474.70,173.10C475.33,172.10 475.97,170.24 476.60,168.90C477.10,167.84 477.60,166.60 478.10,165.90C479.50,163.94 480.90,161.64 482.30,160.90C484.83,159.70 487.37,159.70 489.90,159.70C492.13,159.70 494.37,160.29 496.60,161.40C498.00,162.09 499.40,163.53 500.80,165.10C501.53,165.92 502.27,167.55 503.00,168.60C504.50,170.75 506.00,172.82 507.50,174.70C509.20,176.82 510.90,178.44 512.60,180.60C514.00,182.38 515.40,184.16 516.80,186.50C517.93,188.39 519.07,191.40 520.20,193.30C521.60,195.65 523.00,197.74 524.40,199.23C526.10,201.05 527.80,202.26 529.50,203.25C531.73,204.55 533.97,205.40 536.20,206.13C538.47,206.87 540.73,207.27 543.00,207.67C545.33,208.09 547.67,208.29 550.00,208.60"/>
<path stroke="#d62728" d="M447.00,208.60C449.23,208.33 451.47,208.21 453.70,207.78C455.67,207.39 457.63,207.41 459.60,206.13C460.70,205.42 461.80,203.64 462.90,201.81C464.03,199.93 465.17,197.59 466.30,195.00C467.27,192.79 468.23,190.16 469.20,187.40C470.10,184.83 471.00,181.91 471.90,179.00C472.57,176.84 473.23,174.39 473.90,172.20C474.30,170.89 474.70,169.90 475.10,168.50C475.70,166.40 476.30,164.10 476.90,161.70C477.57,159.03 478.23,155.97 478.90,153.30C479.63,150.37 480.37,147.55 481.10,144.90C481.77,142.49 482.43,139.77 483.10,138.10C483.97,135.93 484.83,134.40 485.70,133.40C486.53,132.44 487.37,132.20 488.20,132.20C489.60,132.20 491.00,132.67 492.40,133.90C493.23,134.63 494.07,136.30 494.90,138.10C495.77,139.97 496.63,142.45 497.50,144.90C498.33,147.25 499.17,149.83 500.00,152.50C500.83,155.17 501.67,158.27 502.50,160.90C503.33,163.53 504.17,165.85 505.00,168.30C505.73,170.45 506.47,172.22 507.20,174.70C507.77,176.62 508.33,179.43 508.90,181.50C509.57,183.93 510.23,186.43 510.90,188.20C512.03,191.20 513.17,193.63 514.30,195.80C515.70,198.48 517.10,200.74 518.50,202.73C519.63,204.35 520.77,205.80 521.90,206.64C523.03,207.49 524.17,207.50 525.30,207.78C526.87,208.15 528.43,208.33 530.00,208.60"/>
<line x1="490.3" y1="128.7" x2="490.3" y2="208.95" stroke="#000" stroke-width="2.1" stroke-dasharray="2.1 3.48"/>
</g>
<rect x="408.05" y="128.7" width="164.40" height="80.25" fill="none" stroke="#000" stroke-width="1.3"/>
<line x1="456.9" y1="208.95" x2="456.9" y2="213.85" stroke="#000" stroke-width="1.1"/>
<text x="449.0" y="226.9" font-size="11.8" textLength="15.7" lengthAdjust="spacingAndGlyphs">3.0</text>
<line x1="538.7" y1="208.95" x2="538.7" y2="213.85" stroke="#000" stroke-width="1.1"/>
<text x="530.8" y="226.9" font-size="11.8" textLength="15.7" lengthAdjust="spacingAndGlyphs">3.1</text>
<text x="83.5" y="114.9" font-size="11.8" textLength="15.4" lengthAdjust="spacingAndGlyphs">log</text>
<text x="100.2" y="114.9" font-size="12.2" font-style="italic" textLength="8.6" lengthAdjust="spacingAndGlyphs">Z</text>
<line x1="286.7" y1="104.3" x2="299.0" y2="104.3" stroke="#000" stroke-width="0.6"/>
<text x="287.0" y="114.6" font-size="12.8" font-style="italic" textLength="6.2" lengthAdjust="spacingAndGlyphs">θ</text>
<text x="294.0" y="118.4" font-size="8.6" textLength="3.8" lengthAdjust="spacingAndGlyphs" stroke="#000" stroke-width="0.15">1</text>
<path d="M294.60,111.10 L295.90,110.00 L297.20,111.10" fill="none" stroke="#000" stroke-width="0.8"/>
<text x="459.3" y="113.6" font-size="11.8" textLength="40.0" lengthAdjust="spacingAndGlyphs">median</text>
<text x="499.8" y="113.6" font-size="11.8" textLength="3.4" lengthAdjust="spacingAndGlyphs">(</text>
<text x="504.3" y="113.6" font-size="12.8" font-style="italic" textLength="6.2" lengthAdjust="spacingAndGlyphs">θ</text>
<text x="511.6" y="116.9" font-size="8.6" textLength="3.8" lengthAdjust="spacingAndGlyphs" stroke="#000" stroke-width="0.15">1</text>
<path d="M512.20,110.20 L513.50,109.10 L514.80,110.20" fill="none" stroke="#000" stroke-width="0.8"/>
<text x="516.8" y="113.6" font-size="11.8" textLength="3.4" lengthAdjust="spacingAndGlyphs">)</text>
<text x="63.8" y="241.0" font-size="11.8" textLength="20.6" lengthAdjust="spacingAndGlyphs">C.I.</text>
<text x="85.1" y="244.0" font-size="8.5" textLength="19.2" lengthAdjust="spacingAndGlyphs" stroke="#000" stroke-width="0.08">84%</text>
<text x="106.4" y="241.0" font-size="11.8" textLength="3.4" lengthAdjust="spacingAndGlyphs">(</text>
<text x="110.5" y="241.0" font-size="12.8" font-style="italic" textLength="6.2" lengthAdjust="spacingAndGlyphs">θ</text>
<text x="117.9" y="244.5" font-size="8.6" textLength="3.8" lengthAdjust="spacingAndGlyphs" stroke="#000" stroke-width="0.15">1</text>
<path d="M118.50,237.80 L119.80,236.70 L121.10,237.80" fill="none" stroke="#000" stroke-width="0.8"/>
<text x="123.7" y="241.0" font-size="11.8" textLength="3.4" lengthAdjust="spacingAndGlyphs">)</text>
<line x1="286.0" y1="235.45" x2="300.0" y2="235.45" stroke="#000" stroke-width="0.7"/>
<line x1="287.95" y1="236.9" x2="287.95" y2="249.5" stroke="#000" stroke-width="0.8"/>
<line x1="298.15" y1="236.9" x2="298.15" y2="249.5" stroke="#000" stroke-width="0.8"/>
<text x="289.8" y="245.6" font-size="12.8" font-style="italic" textLength="6.2" lengthAdjust="spacingAndGlyphs" stroke="#000" stroke-width="0.12">θ</text>
<text x="458.8" y="243.7" font-size="11.8" textLength="39.6" lengthAdjust="spacingAndGlyphs">median</text>
<text x="499.4" y="243.7" font-size="11.8" textLength="3.4" lengthAdjust="spacingAndGlyphs">(</text>
<line x1="505.55" y1="235.2" x2="505.55" y2="246.9" stroke="#000" stroke-width="0.8"/>
<text x="507.7" y="243.7" font-size="12.8" font-style="italic" textLength="6.2" lengthAdjust="spacingAndGlyphs">θ</text>
<line x1="516.4" y1="235.2" x2="516.4" y2="246.9" stroke="#000" stroke-width="0.8"/>
<text x="518.2" y="243.7" font-size="11.8" textLength="3.4" lengthAdjust="spacingAndGlyphs">)</text>
<rect x="591.2" y="64.5" width="92.5" height="69.6" rx="2.5" ry="2.5" fill="#fff" fill-opacity="0.8" stroke="#cccccc" stroke-width="1.1"/>
<line x1="594.6" y1="73.2" x2="620.8" y2="73.2" stroke="#1f77b4" stroke-width="2.1"/>
<text x="629.5" y="77.7" font-size="11.8" textLength="48.1" lengthAdjust="spacingAndGlyphs">standard</text>
<line x1="594.6" y1="90.0" x2="620.8" y2="90.0" stroke="#ff7f0e" stroke-width="2.1"/>
<text x="629.3" y="94.3" font-size="13.3" font-style="italic">G</text>
<path d="M643.6,89.8h8.8M643.6,92.7h8.8" stroke="#000" stroke-width="0.75" fill="none"/>
<text x="656.3" y="94.3" font-size="11.8" textLength="6.5" lengthAdjust="spacingAndGlyphs">0</text>
<line x1="594.6" y1="106.8" x2="620.8" y2="106.8" stroke="#2ca02c" stroke-width="2.1"/>
<text x="629.3" y="110.9" font-size="13.3" font-style="italic">G</text>
<path d="M643.6,106.4h8.8M643.6,109.3h8.8" stroke="#000" stroke-width="0.75" fill="none"/>
<text x="656.3" y="110.9" font-size="11.8" textLength="22.2" lengthAdjust="spacingAndGlyphs">0.25</text>
<line x1="594.6" y1="123.5" x2="620.8" y2="123.5" stroke="#d62728" stroke-width="2.1"/>
<text x="629.3" y="127.5" font-size="13.3" font-style="italic">G</text>
<path d="M643.6,123.0h8.8M643.6,125.9h8.8" stroke="#000" stroke-width="0.75" fill="none"/>
<text x="656.3" y="127.5" font-size="11.8" textLength="6.5" lengthAdjust="spacingAndGlyphs">1</text>
</svg>
</body></html>
